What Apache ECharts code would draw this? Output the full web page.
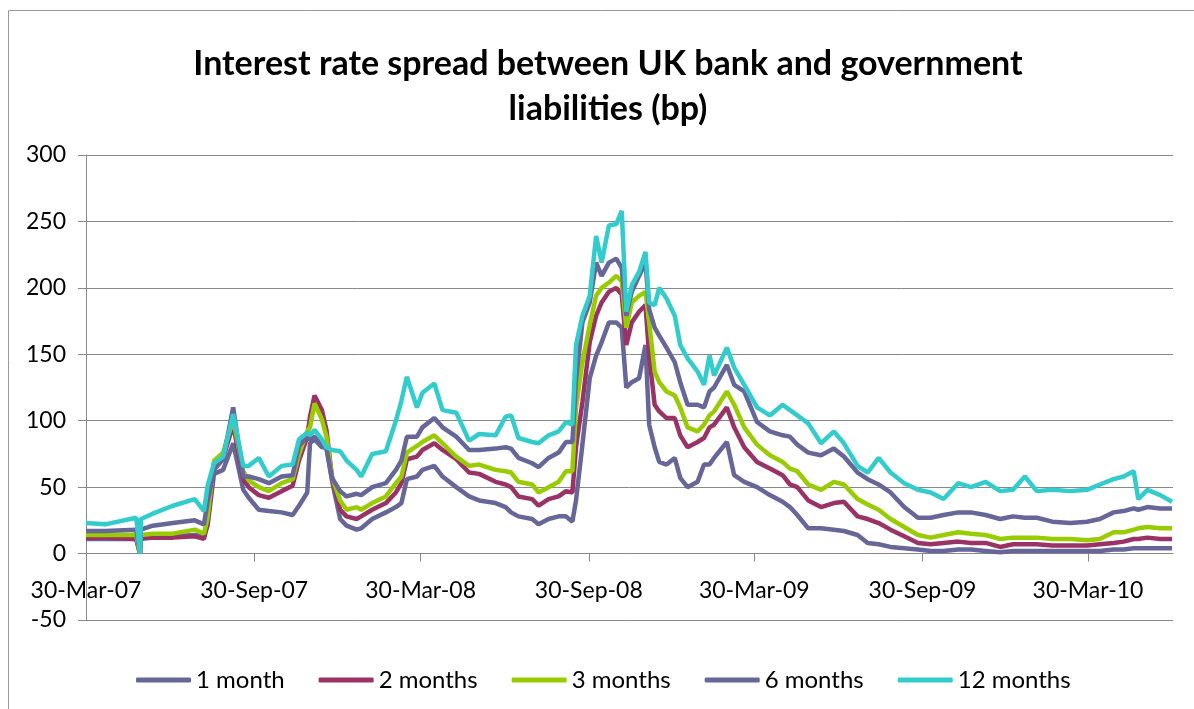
<!DOCTYPE html>
<html>
<head>
<meta charset="utf-8">
<script src="https://cdn.jsdelivr.net/npm/echarts@6/dist/echarts.min.js"></script>
<style>
  html, body { margin: 0; padding: 0; background: #fff; }
  #chart { width: 1194px; height: 709px; }
</style>
</head>
<body>
<div id="chart"></div>
<script>
// roughly every two weeks plus the spikes
const dates = [
  '2007-03-30','2007-04-20','2007-05-24','2007-05-25','2007-05-28','2007-05-29','2007-06-11','2007-07-03',
  '2007-07-27','2007-08-06','2007-08-10','2007-08-17','2007-08-27','2007-09-07','2007-09-18','2007-09-24',
  '2007-10-05','2007-10-16','2007-10-30','2007-11-11','2007-11-18','2007-11-27','2007-11-30','2007-12-05',
  '2007-12-13','2007-12-18','2007-12-24','2008-01-02','2008-01-09','2008-01-20','2008-01-25','2008-02-06',
  '2008-02-21','2008-03-03','2008-03-09','2008-03-15','2008-03-26','2008-04-01','2008-04-14','2008-04-23',
  '2008-05-08','2008-05-22','2008-06-02','2008-06-20','2008-07-01','2008-07-07','2008-07-15','2008-07-30',
  '2008-08-06','2008-08-17','2008-08-28','2008-09-05','2008-09-12','2008-09-16','2008-09-23','2008-10-01',
  '2008-10-08','2008-10-14','2008-10-22','2008-10-30','2008-11-05','2008-11-10','2008-11-16','2008-11-24',
  '2008-12-01','2008-12-05','2008-12-11','2008-12-16','2008-12-24','2009-01-02','2009-01-08','2009-01-16',
  '2009-01-27','2009-02-03','2009-02-09','2009-02-14','2009-02-28','2009-03-08','2009-03-19','2009-04-02',
  '2009-04-16','2009-04-30','2009-05-08','2009-05-16','2009-05-28','2009-06-11','2009-06-25','2009-07-06',
  '2009-07-21','2009-08-01','2009-08-13','2009-08-26','2009-09-10','2009-09-25','2009-10-09','2009-10-23',
  '2009-11-08','2009-11-22','2009-12-08','2009-12-24','2010-01-07','2010-01-20','2010-02-02','2010-02-19',
  '2010-03-11','2010-03-29','2010-04-12','2010-04-27','2010-05-08','2010-05-19','2010-05-24','2010-06-03',
  '2010-06-17','2010-06-30'
];
const oneMonth = [
  11,11,11,11,0,11,12,13, 14,13,21,60,63,83,48,42,
  33,32,31,29,36,46,83,86, 80,80,55,26,21,18,19,26,
  31,35,38,56,58,63,66,58, 50,43,40,38,35,31,28,26,
  22,26,28,28,24,40,82,132, 149,159,174,174,170,125,129,132,
  157,97,80,69,67,72,57,50, 54,67,67,72,84,59,54,50,
  44,39,35,29,19,19,18,17, 14,8,7,5,4,3,2,2,
  3,3,2,1,2,2,2,2, 2,2,2,3,3,4,4,4,
  4,4
];
const twoMonths = [
  12,12,11,11,0,12,12,12, 13,11,23,66,72,97,56,50,
  44,42,47,51,70,88,103,119, 108,93,58,33,28,26,28,33,
  38,46,53,71,73,78,83,78, 71,61,60,54,52,50,43,41,
  36,41,43,47,46,80,114,159, 179,189,197,200,195,157,174,182,
  187,149,112,107,102,102,89,80, 84,87,95,97,110,95,80,69,
  64,59,52,50,40,35,38,39, 28,26,23,18,13,8,7,8,
  9,8,8,5,7,7,7,6, 6,6,7,8,9,11,11,12,
  11,11
];
const threeMonths = [
  14,14,14,14,0,14,15,15, 18,15,27,70,76,101,62,55,
  50,47,53,56,75,92,95,113, 101,88,58,40,33,35,33,38,
  43,53,58,76,81,84,89,83, 73,66,67,63,62,61,54,52,
  46,50,54,62,62,110,144,172, 194,200,204,209,205,170,189,194,
  197,174,137,129,122,119,110,95, 92,97,104,107,122,112,95,82,
  74,69,64,62,52,48,54,52, 41,37,33,26,20,14,12,14,
  16,15,14,11,12,12,12,11, 11,10,11,16,16,18,19,20,
  19,19
];
const sixMonths = [
  17,17,18,18,0,18,21,23, 25,22,39,63,71,110,58,58,
  56,53,58,59,81,88,86,88, 82,79,57,47,43,45,44,50,
  53,63,70,88,88,95,102,95, 88,78,78,79,80,79,72,68,
  65,72,76,84,84,130,174,189, 219,209,219,222,215,179,197,209,
  219,184,170,164,155,144,129,112, 112,110,122,125,142,127,122,99,
  92,89,88,82,76,74,79,73, 61,56,52,46,35,27,27,29,
  31,31,29,26,28,27,27,24, 23,24,26,31,32,34,33,35,
  34,34
];
const twelveMonths = [
  23,22,27,27,0,26,30,36, 41,32,51,68,73,105,66,66,
  72,58,66,67,86,91,89,93, 86,80,78,77,70,63,58,75,
  77,100,115,133,110,121,128,108, 106,85,90,89,103,104,87,84,
  83,89,92,99,97,157,179,194, 239,219,247,248,258,182,202,212,
  227,189,187,200,192,179,157,147, 137,127,149,134,155,140,127,110,
  104,112,108,104,98,83,92,83, 66,61,72,61,53,48,46,41,
  53,50,54,47,48,58,47,48, 47,48,52,56,58,62,41,48,
  44,39
];
const seriesNames = ['1 month', '2 months', '3 months', '6 months', '12 months'];
const seriesColors = ['#666699', '#993366', '#99cc00', '#666699', '#33cccc'];
const tickDates = ['2007-03-30','2007-09-30','2008-03-30','2008-09-30','2009-03-30','2009-09-30','2010-03-30'];
const tickLabels = ['30-Mar-07','30-Sep-07','30-Mar-08','30-Sep-08','30-Mar-09','30-Sep-09','30-Mar-10'];

function toTime(s) {
  const p = s.split('-').map(Number);
  return Date.UTC(p[0], p[1] - 1, p[2]);
}
const tickTimes = tickDates.map(toTime);
const allValues = [oneMonth, twoMonths, threeMonths, sixMonths, twelveMonths];

const font = 'Lato, "Open Sans", sans-serif';
const chart = echarts.init(document.getElementById('chart'));
chart.setOption({
  animation: false,
  title: {
    text: 'Interest rate spread between UK bank and government\nliabilities (bp)',
    left: 603,
    top: 37,
    textAlign: 'center',
    textStyle: { fontFamily: font, fontSize: 34, fontWeight: 'bold', color: '#000', lineHeight: 45 }
  },
  grid: { left: 86, right: 21, top: 155, bottom: 89 },
  legend: {
    top: 663,
    left: 131,
    itemWidth: 55,
    itemHeight: 5,
    itemGap: 34,
    icon: 'roundRect',
    textStyle: { fontFamily: font, fontSize: 24, color: '#000' },
    data: seriesNames
  },
  xAxis: {
    type: 'value',
    min: toTime('2007-03-30'),
    max: toTime('2010-07-01'),
    offset: -66.5,
    axisLine: { onZero: false, lineStyle: { color: '#888', width: 1 } },
    axisTick: { show: true, length: 8, customValues: tickTimes, lineStyle: { color: '#888' } },
    axisLabel: {
      customValues: tickTimes,
      margin: 26,
      fontFamily: font,
      fontSize: 23,
      color: '#000',
      formatter: function (v) {
        for (let i = 0; i < tickTimes.length; i++) {
          if (Math.abs(tickTimes[i] - v) < 43200000) return tickLabels[i];
        }
        return '';
      }
    },
    splitLine: { show: false }
  },
  yAxis: {
    type: 'value',
    min: -50,
    max: 300,
    interval: 50,
    axisLine: { show: true, lineStyle: { color: '#888' } },
    axisTick: { show: true, length: 8, lineStyle: { color: '#888' } },
    axisLabel: { margin: 20, fontFamily: font, fontSize: 23, color: '#000' },
    splitLine: { lineStyle: { color: '#888', width: 1 } }
  },
  graphic: [{
    type: 'rect',
    shape: { x: 8.5, y: 10.5, width: 1300, height: 800 },
    style: { fill: 'none', stroke: '#999', lineWidth: 1 },
    silent: true
  }],
  series: seriesNames.map((name, k) => ({
    name: name,
    type: 'line',
    showSymbol: false,
    symbol: 'none',
    color: seriesColors[k],
    lineStyle: { width: 4.5, color: seriesColors[k] },
    data: dates.map((d, i) => [toTime(d), allValues[k][i]])
  }))
});
</script>
</body>
</html>
